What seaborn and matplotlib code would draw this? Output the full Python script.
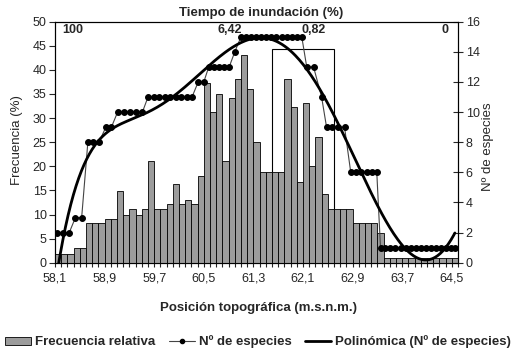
import numpy as np
import pandas as pd
import matplotlib
matplotlib.use("Agg")
import matplotlib.pyplot as plt
import seaborn as sns
from matplotlib.patches import Rectangle, Patch
from matplotlib.lines import Line2D

# ---------------- data ----------------
elevacion = np.round(58.1 + 0.1 * np.arange(65), 1)   # category positions (m.s.n.m.)
frecuencia = [1.9, 1.9, 1.9, 3.0, 3.0, 8.2, 8.2, 8.2, 9.0, 9.0,
              14.9, 10.0, 11.1, 10.0, 11.1, 21.0, 11.1, 11.1, 12.2, 16.3,
              12.2, 13.0, 12.2, 18.0, 37.2, 31.2, 35.1, 21.0, 34.1, 38.1,
              43.1, 36.0, 25.0, 18.9, 18.9, 18.9, 18.9, 38.1, 32.2, 16.8,
              33.1, 20.1, 26.1, 14.2, 11.1, 11.1, 11.1, 11.1, 8.2, 8.2,
              8.2, 8.2, 6.1, 0.9, 0.9, 0.9, 0.9, 0.9, 0.9, 0.9,
              0.9, 0.9, 0.9, 0.9, 0.9]

esp_x = [58.09, 58.18, 58.28, 58.38, 58.48, 58.58, 58.67, 58.76, 58.87, 58.96,
         59.06, 59.16, 59.26, 59.36, 59.46, 59.55, 59.65, 59.73, 59.82, 59.90,
         60.00, 60.08, 60.18, 60.26, 60.36, 60.45, 60.53, 60.61, 60.70, 60.78,
         60.86, 60.95, 61.05, 61.13, 61.21, 61.29, 61.38, 61.46, 61.54, 61.62,
         61.71, 61.79, 61.87, 61.95, 62.03, 62.11, 62.22, 62.35, 62.43, 62.52,
         62.62, 62.72, 62.82, 62.90, 62.99, 63.08, 63.16, 63.24, 63.30, 63.38,
         63.46, 63.54, 63.63, 63.71, 63.79, 63.87, 63.95, 64.03, 64.11, 64.19,
         64.27, 64.36, 64.44, 64.50]
esp_n = [2, 2, 2, 3, 3, 8, 8, 8, 9, 9,
         10, 10, 10, 10, 10, 11, 11, 11, 11, 11,
         11, 11, 11, 11, 12, 12, 13, 13, 13, 13,
         13, 14, 15, 15, 15, 15, 15, 15, 15, 15,
         15, 15, 15, 15, 15, 13, 13, 11, 9, 9,
         9, 9, 6, 6, 6, 6, 6, 6, 1, 1,
         1, 1, 1, 1, 1, 1, 1, 1, 1, 1,
         1, 1, 1, 1]

x_tick_labels = ["58,1", "58,9", "59,7", "60,5", "61,3", "62,1", "62,9", "63,7", "64,5"]
inundacion_labels = ["100", "6,42", "0,82", "0"]
inundacion_pos = [58.33, 60.87, 62.22, 64.34]

# ---------------- style ----------------
sns.set_style("white")
plt.rcParams["font.family"] = ["Liberation Sans", "DejaVu Sans"]
plt.rcParams["font.size"] = 9

fig = plt.figure(figsize=(5.15, 3.54), dpi=100)
ax = fig.add_axes([55 / 515, 1 - 262.7 / 354, (458 - 55) / 515, (262.7 - 21.7) / 354])

df_bar = pd.DataFrame({"x": elevacion, "f": frecuencia})
sns.barplot(data=df_bar, x="x", y="f", native_scale=True, width=1.0,
            color="#9c9c9c", saturation=1, edgecolor="black", linewidth=0.6,
            errorbar=None, ax=ax, zorder=3)

# highlighted zone (rectangle outline)
ax.add_patch(Rectangle((61.55, 0), 1.0, 44.3, fill=False, edgecolor="black",
                       linewidth=0.8, zorder=2))

ax.set_xlim(58.05, 64.55)
ax.set_ylim(0, 50)
ax.set_yticks(np.arange(0, 51, 5))
ax.set_xticks(58.05 + 0.8 * np.arange(9))
ax.set_xticklabels(x_tick_labels)
ax.set_xticks(58.05 + 0.1 * np.arange(66), minor=True)
ax.tick_params(axis="x", which="both", direction="out", length=3, width=0.8,
               bottom=True, labelsize=9, pad=4)
ax.tick_params(axis="y", direction="out", length=4, width=0.8, left=True,
               labelsize=9, pad=2)
ax.set_xlabel("")
ax.set_ylabel("")
for s in ax.spines.values():
    s.set_color("black")
    s.set_linewidth(0.8)

ax2 = ax.twinx()
df_esp = pd.DataFrame({"x": esp_x, "n": esp_n})
sns.lineplot(data=df_esp, x="x", y="n", color="#444444", linewidth=0.8,
             marker="o", markersize=4.2, markerfacecolor="black",
             markeredgecolor="black", ax=ax2, zorder=4)

coef = np.polyfit(np.array(esp_x) - 61.3, esp_n, 6)
xs = np.linspace(esp_x[0], esp_x[-1], 300)
df_poly = pd.DataFrame({"x": xs, "y": np.polyval(coef, xs - 61.3)})
sns.lineplot(data=df_poly, x="x", y="y", color="black", linewidth=2.0,
             ax=ax2, zorder=5)

ax2.set_ylim(0, 16)
ax2.set_yticks(np.arange(0, 17, 2))
ax2.tick_params(axis="y", direction="inout", length=7, width=0.8, right=True,
                labelsize=9, pad=2)
ax2.set_xlim(58.05, 64.55)
ax2.set_xlabel("")
ax2.set_ylabel("")
for s in ax2.spines.values():
    s.set_color("black")
    s.set_linewidth(0.8)

for lab, xp in zip(inundacion_labels, inundacion_pos):
    ax2.text(xp, 15.45, lab, ha="center", va="center", fontsize=9,
             fontweight="bold", zorder=6)

fig.text(261 / 515, 1 - 13 / 354, "Tiempo de inundación (%)", ha="center",
         va="center", fontsize=9.5, fontweight="bold")
fig.text(258 / 515, 1 - 308 / 354, "Posición topográfica (m.s.n.m.)",
         ha="center", va="center", fontsize=9.5, fontweight="bold")
fig.text(17 / 515, 1 - 140 / 354, "Frecuencia (%)", rotation=90, ha="center",
         va="center", fontsize=9.5)
fig.text(488 / 515, 1 - 147 / 354, "Nº de especies", rotation=90, ha="center",
         va="center", fontsize=9.5)

handles = [Patch(facecolor="#9c9c9c", edgecolor="black", linewidth=0.6),
           Line2D([], [], color="#444444", linewidth=0.8, marker="o",
                  markersize=3, markerfacecolor="black", markeredgecolor="black"),
           Line2D([], [], color="black", linewidth=2.0)]
labels = ["Frecuencia relativa", "Nº de especies", "Polinómica (Nº de especies)"]
fig.legend(handles, labels, loc="center", bbox_to_anchor=(258 / 515, 1 - 342 / 354),
           ncol=3, frameon=False, prop={"weight": "bold", "size": 9.5},
           handlelength=2.0, handleheight=0.5, handletextpad=0.3,
           columnspacing=1.0, borderaxespad=0)

fig.savefig("out.png", dpi=100)
